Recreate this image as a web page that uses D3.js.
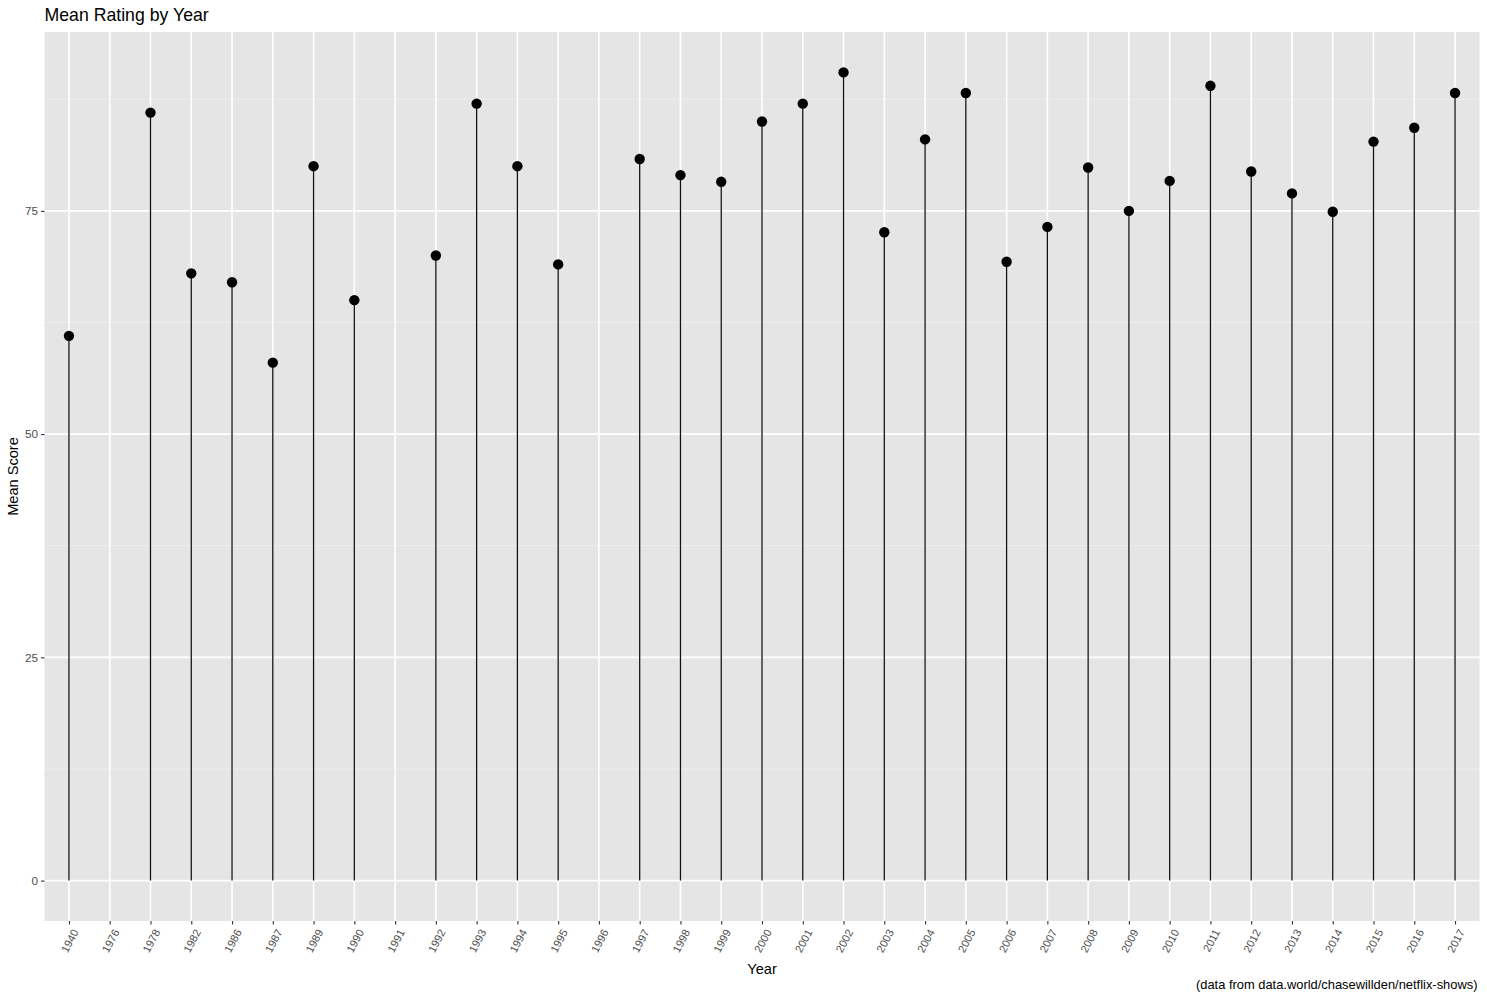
<!DOCTYPE html>
<html>
<head>
<meta charset="utf-8">
<script src="https://cdn.jsdelivr.net/npm/d3@7"></script>
<style>
  html, body { margin: 0; padding: 0; background: #ffffff; }
  svg { display: block; font-family: "Liberation Sans", Arial, Helvetica, sans-serif; }
</style>
</head>
<body>
<svg id="chart" width="1487" height="1000"></svg>
<script>
// ---- data ----
const years = ["1940","1976","1978","1982","1986","1987","1989","1990","1991","1992","1993","1994","1995","1996","1997","1998","1999","2000","2001","2002","2003","2004","2005","2006","2007","2008","2009","2010","2011","2012","2013","2014","2015","2016","2017"];
const meanScores = [61, null, 86, 68, 67, 58, 80, 65, null, 70, 87, 80, 69, null, 80.8, 79, 78.25, 85, 87, 90.5, 72.6, 83, 88.2, 69.3, 73.2, 79.85, 75, 78.35, 89, 79.4, 76.95, 74.9, 82.75, 84.3, 88.2];
const yTicks = [0, 25, 50, 75];
const yMinorTicks = [12.5, 37.5, 62.5, 87.5];
const titleText = "Mean Rating by Year";
const xTitle = "Year";
const yTitle = "Mean Score";
const captionText = "(data from data.world/chasewillden/netflix-shows)";

// ---- layout ----
const W = 1487, H = 1000;
const panel = { left: 44.5, right: 1479.5, top: 32, bottom: 921 };

const svg = d3.select("#chart");

const rows = years.map((y, i) => ({ year: y, value: meanScores[i] }));
const valid = rows.filter(d => d.value != null);

const x = d3.scalePoint().domain(years).range([panel.left, panel.right]).padding(0.6);
const yMax = d3.max(valid, d => d.value);
const ext = yMax * 0.05;
const y = d3.scaleLinear().domain([0 - ext, yMax + ext]).range([panel.bottom, panel.top]);

// panel background
svg.append("rect")
  .attr("x", panel.left).attr("y", panel.top)
  .attr("width", panel.right - panel.left).attr("height", panel.bottom - panel.top)
  .attr("fill", "#E5E5E5");

// minor grid
svg.append("g").selectAll("line").data(yMinorTicks).join("line")
  .attr("x1", panel.left).attr("x2", panel.right)
  .attr("y1", d => y(d)).attr("y2", d => y(d))
  .attr("stroke", "#F2F2F2").attr("stroke-width", 0.8);

// major grid
svg.append("g").selectAll("line").data(yTicks).join("line")
  .attr("x1", panel.left).attr("x2", panel.right)
  .attr("y1", d => y(d)).attr("y2", d => y(d))
  .attr("stroke", "#FFFFFF").attr("stroke-width", 1.6);

svg.append("g").selectAll("line").data(years).join("line")
  .attr("x1", d => x(d)).attr("x2", d => x(d))
  .attr("y1", panel.top).attr("y2", panel.bottom)
  .attr("stroke", "#FFFFFF").attr("stroke-width", 1.6);

// segments
svg.append("g").selectAll("line").data(valid).join("line")
  .attr("x1", d => x(d.year)).attr("x2", d => x(d.year))
  .attr("y1", y(0)).attr("y2", d => y(d.value))
  .attr("stroke", "#111111").attr("stroke-width", 1.3);

// points
svg.append("g").selectAll("circle").data(valid).join("circle")
  .attr("cx", d => x(d.year)).attr("cy", d => y(d.value))
  .attr("r", 5.2).attr("fill", "#000000");

// y axis
const yAxis = d3.axisLeft(y).tickValues(yTicks).tickSize(3.5).tickPadding(3);
const gy = svg.append("g").attr("transform", `translate(${panel.left},0)`).call(yAxis);
gy.select(".domain").remove();
gy.selectAll(".tick line").attr("stroke", "#333333").attr("stroke-width", 1.1);
gy.selectAll(".tick text").attr("fill", "#4D4D4D").attr("font-size", "11.7px")
  .attr("font-family", "Liberation Sans, Arial, sans-serif");

// x axis
const xAxis = d3.axisBottom(x).tickSize(3.5).tickPadding(3);
const gx = svg.append("g").attr("transform", `translate(0,${panel.bottom})`).call(xAxis);
gx.select(".domain").remove();
gx.selectAll(".tick line").attr("stroke", "#333333").attr("stroke-width", 1.1);
gx.selectAll(".tick text")
  .attr("fill", "#4D4D4D").attr("font-size", "11px")
  .attr("font-family", "Liberation Sans, Arial, sans-serif")
  .attr("text-anchor", "end")
  .attr("dy", null)
  .attr("dominant-baseline", "central")
  .attr("x", 0).attr("y", 0)
  .attr("transform", "translate(6,9) rotate(-62)");

// titles
svg.append("text").attr("x", panel.left).attr("y", 20.5)
  .attr("font-size", "17.7px").attr("fill", "#000").text(titleText);

svg.append("text").attr("x", (panel.left + panel.right) / 2).attr("y", 974)
  .attr("text-anchor", "middle").attr("font-size", "14.6px").attr("fill", "#000").text(xTitle);

svg.append("text")
  .attr("transform", `translate(18,${(panel.top + panel.bottom) / 2}) rotate(-90)`)
  .attr("text-anchor", "middle").attr("font-size", "14.6px").attr("fill", "#000").text(yTitle);

svg.append("text").attr("x", panel.right - 2).attr("y", 989)
  .attr("text-anchor", "end").attr("font-size", "12.9px").attr("fill", "#000").text(captionText);
</script>
</body>
</html>
